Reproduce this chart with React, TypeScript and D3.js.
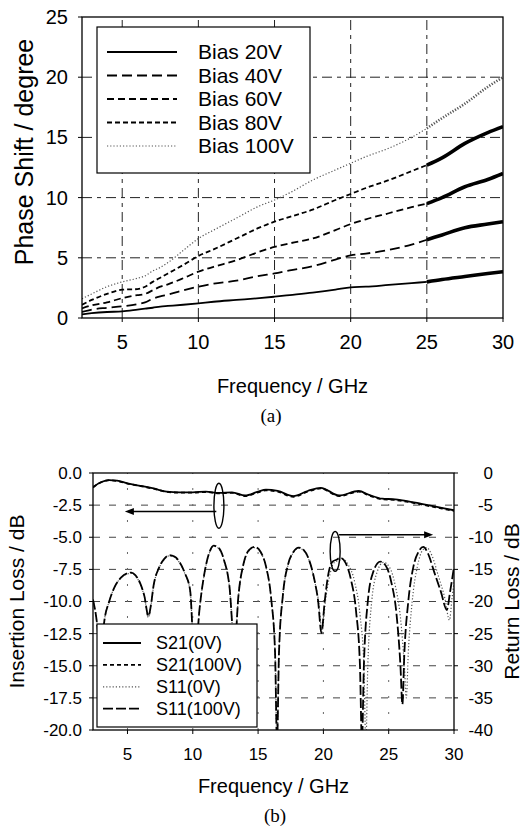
import React from "react";
import * as d3 from "d3";

// ---------- (a) Phase shift ----------
const freqA = [2.36, 3, 4, 5, 6, 6.5, 7, 7.5, 8, 9, 10, 11, 12.5, 14, 15, 16, 17.5, 19, 20, 21, 22.5, 24, 25, 26, 27.5, 29, 30];
const bias20 = [0.3, 0.4, 0.5, 0.55, 0.7, 0.78, 0.85, 0.95, 1.0, 1.1, 1.22, 1.35, 1.5, 1.65, 1.77, 1.9, 2.1, 2.35, 2.55, 2.6, 2.75, 2.9, 3.0, 3.2, 3.45, 3.7, 3.85];
const bias40 = [0.5, 0.7, 0.85, 0.97, 1.15, 1.3, 1.6, 1.8, 1.95, 2.3, 2.6, 2.85, 3.1, 3.5, 3.7, 3.95, 4.3, 4.85, 5.2, 5.35, 5.65, 6.1, 6.5, 6.9, 7.5, 7.8, 8.0];
const bias60 = [0.8, 1.05, 1.3, 1.65, 1.9, 2.0, 2.3, 2.6, 2.8, 3.3, 3.85, 4.25, 4.8, 5.5, 5.9, 6.2, 6.6, 7.3, 7.8, 8.2, 8.7, 9.2, 9.5, 10.0, 10.9, 11.5, 12.0];
const bias80 = [1.1, 1.5, 2.0, 2.35, 2.4, 2.6, 3.0, 3.35, 3.7, 4.4, 5.15, 5.7, 6.6, 7.5, 8.0, 8.4, 9.0, 9.8, 10.3, 10.8, 11.45, 12.2, 12.7, 13.3, 14.5, 15.4, 15.9];
const bias100 = [1.6, 2.0, 2.6, 3.0, 3.3, 3.5, 3.9, 4.2, 4.6, 5.6, 6.6, 7.3, 8.3, 9.3, 9.8, 10.4, 11.45, 12.3, 12.85, 13.4, 14.1, 15.0, 15.75, 16.6, 17.8, 19.2, 20.0];
const seriesA = ["Bias 20V", "Bias 40V", "Bias 60V", "Bias 80V", "Bias 100V"];
const ticksAX = [5, 10, 15, 20, 25, 30];
const ticksAY = [0, 5, 10, 15, 20, 25];
const noisyFromA = 25; // above this frequency the measured traces are much noisier

// ---------- (b) S-parameters ----------
const freqS21 = [2.36, 3.0, 3.6, 4.2, 5, 6, 7, 8, 9, 10, 11, 12, 13, 14, 15, 15.6, 16.5, 17.7, 18.8, 19.8, 21.2, 22.7, 23.5, 24.5, 25.5, 26.5, 27.5, 28.5, 30];
const s21_0V = [-1.1, -0.7, -0.55, -0.6, -0.8, -1.0, -1.2, -1.45, -1.5, -1.5, -1.45, -1.55, -1.5, -1.75, -1.45, -1.3, -1.4, -1.8, -1.4, -1.15, -1.75, -1.4, -1.7, -2.0, -2.05, -2.2, -2.4, -2.6, -2.9];
const s21_100V = [-1.12, -0.72, -0.56, -0.62, -0.82, -1.02, -1.22, -1.47, -1.53, -1.53, -1.48, -1.58, -1.54, -1.8, -1.5, -1.35, -1.45, -1.85, -1.45, -1.2, -1.8, -1.45, -1.75, -2.05, -2.1, -2.25, -2.45, -2.65, -2.95];

const freqS11_100V = [2.36, 2.7, 2.95, 3.2, 3.6, 4.0, 4.5, 5.0, 5.3, 5.6, 6.0, 6.3, 6.6, 6.8, 7.0, 7.4, 7.8, 8.2, 8.6, 9.0, 9.4, 9.8, 10.15, 10.5, 10.9, 11.3, 11.6, 12.0, 12.4, 12.8, 13.2, 13.5, 13.9, 14.3, 14.75, 15.2, 15.6, 16.0, 16.3, 16.45, 16.6, 16.9, 17.3, 17.7, 18.1, 18.5, 18.9, 19.3, 19.6, 19.85, 20.1, 20.4, 20.7, 21.0, 21.3, 21.7, 22.1, 22.5, 22.8, 22.95, 23.1, 23.4, 23.8, 24.35, 24.8, 25.2, 25.6, 25.9, 26.05, 26.2, 26.5, 26.9, 27.3, 27.65, 28.0, 28.5, 29.0, 29.45, 29.7, 30.0];
const s11_100V = [-19.7, -24, -30, -23.5, -20, -17.8, -16.3, -15.6, -15.5, -15.9, -17.3, -19.2, -22.3, -20.5, -17.5, -14.8, -13.4, -12.8, -13.0, -13.9, -15.6, -18.3, -30, -21.5, -15.5, -12.2, -11.3, -11.7, -13.6, -17.5, -27, -19, -14.0, -12.0, -11.5, -12.3, -14.5, -19.5, -28, -42, -28, -19, -14.2, -12.3, -11.6, -12.0, -13.5, -16.5, -20, -24.9, -20, -15.5, -13.8, -13.5, -13.2, -14.0, -16.5, -21.5, -30, -42, -30, -20, -15.5, -13.8, -14.5, -17, -22, -30, -36, -28, -20, -14.5, -12.2, -11.5, -12.5, -15.5, -18.5, -21.3, -18.5, -14.6];

const freqS11_0V = [2.36, 2.7, 2.95, 3.2, 3.6, 4.0, 4.5, 5.0, 5.3, 5.6, 6.0, 6.3, 6.6, 6.8, 7.0, 7.4, 7.8, 8.2, 8.6, 9.0, 9.4, 9.8, 10.15, 10.5, 10.9, 11.3, 11.6, 12.0, 12.4, 12.8, 13.2, 13.5, 13.9, 14.3, 14.75, 15.2, 15.6, 16.0, 16.3, 16.45, 16.6, 16.9, 17.3, 17.7, 18.1, 18.5, 18.9, 19.3, 19.6, 19.9, 20.15, 20.5, 20.8, 21.2, 21.5, 21.9, 22.4, 22.8, 23.1, 23.25, 23.4, 23.7, 24.1, 24.6, 25.1, 25.5, 25.9, 26.2, 26.35, 26.5, 26.8, 27.2, 27.6, 27.9, 28.3, 28.8, 29.3, 29.65, 29.85, 30.0];
const s11_0V = [-19.7, -24, -30, -23.5, -20, -17.8, -16.3, -15.7, -15.6, -16.0, -17.4, -19.3, -22.5, -20.6, -17.6, -14.9, -13.5, -12.9, -13.1, -14.0, -15.7, -18.4, -30, -21.6, -15.6, -12.3, -11.4, -11.8, -13.7, -17.6, -27, -19.1, -14.1, -12.1, -11.6, -12.4, -14.6, -19.6, -28, -42, -28, -19.1, -14.3, -12.4, -11.7, -12.1, -13.6, -16.6, -19.5, -24.5, -20, -15.8, -14.0, -13.6, -13.4, -14.3, -17, -22, -30, -42, -30, -20, -15.5, -13.9, -14.8, -17.5, -22.5, -30, -35, -28, -20, -14.5, -12.0, -11.6, -12.8, -16, -19.5, -22.9, -19.5, -17];

const seriesB = ["S21(0V)", "S21(100V)", "S11(0V)", "S11(100V)"];
const ticksBX = [5, 10, 15, 20, 25, 30];
const ticksBL = [0, -2.5, -5, -7.5, -10, -12.5, -15, -17.5, -20];
const ticksBR = [0, -5, -10, -15, -20, -25, -30, -35, -40];

const SANS = "'Liberation Sans', Arial, Helvetica, sans-serif";
const SERIF = "'Liberation Serif', 'Times New Roman', serif";

const dashA = ["", "10,5", "7,4", "5,3", "1.2,2"];
const widthA = [1.8, 1.8, 1.8, 1.8, 1.2];
const colorA = ["#000", "#000", "#000", "#000", "#555"];

function TopChart() {
  const x = d3.scaleLinear().domain([2.36, 30]).range([82, 503]);
  const y = d3.scaleLinear().domain([0, 25]).range([318, 17]);
  const data = [bias20, bias40, bias60, bias80, bias100];
  const line = (vals: number[], keep: (f: number) => boolean) =>
    d3.line<number>()
      .defined((_, i) => keep(freqA[i]))
      .x((_, i) => x(freqA[i]))
      .y((v) => y(v))
      .curve(d3.curveMonotoneX)(vals) || "";
  const [x0, x1] = x.range();
  const [y0, y1] = y.range();
  return (
    <g>
      <defs>
        <clipPath id="clipA">
          <rect x={x0} y={y1} width={x1 - x0} height={y0 - y1} />
        </clipPath>
      </defs>
      {ticksAY.filter((t) => t > 0 && t < 25).map((t) => (
        <line key={"gy" + t} x1={x0} x2={x1} y1={y(t)} y2={y(t)} stroke="#222" strokeWidth={1} strokeDasharray="10,5,4,5" />
      ))}
      {ticksAX.filter((t) => t < 30).map((t) => (
        <line key={"gx" + t} x1={x(t)} x2={x(t)} y1={y0} y2={y1} stroke="#222" strokeWidth={1} strokeDasharray="10,5,4,5" />
      ))}
      <g clipPath="url(#clipA)">
        {data.map((vals, i) => (
          <g key={i}>
            <path d={line(vals, (f) => f <= noisyFromA)} fill="none" stroke={colorA[i]} strokeWidth={widthA[i]} strokeDasharray={dashA[i] || undefined} />
            <path d={line(vals, (f) => f >= noisyFromA)} fill="none" stroke={colorA[i]} strokeWidth={i === 4 ? 2.6 : 3.6} strokeDasharray={i === 4 ? "1.2,1.6" : undefined} />
          </g>
        ))}
      </g>
      <rect x={x0} y={y1} width={x1 - x0} height={y0 - y1} fill="none" stroke="#000" strokeWidth={1.3} />
      {ticksAY.map((t) => (
        <g key={"ty" + t}>
          <line x1={x0 - 4} x2={x0} y1={y(t)} y2={y(t)} stroke="#000" />
          <text x={x0 - 14} y={y(t)} dy="0.35em" textAnchor="end" fontSize={20} fontFamily={SANS}>{t}</text>
        </g>
      ))}
      {ticksAX.map((t) => (
        <g key={"tx" + t}>
          <line x1={x(t)} x2={x(t)} y1={y0} y2={y0 + 4} stroke="#000" />
          <text x={x(t)} y={y0 + 24} dy="0.35em" textAnchor="middle" fontSize={20} fontFamily={SANS}>{t}</text>
        </g>
      ))}
      <text x={(x0 + x1) / 2} y={386} dy="0.35em" textAnchor="middle" fontSize={20} fontFamily={SANS}>Frequency / GHz</text>
      <text transform={`translate(24,152) rotate(-90)`} dy="0.35em" textAnchor="middle" fontSize={25} fontFamily={SANS}>Phase Shift / degree</text>
      <text x={271} y={415} dy="0.35em" textAnchor="middle" fontSize={19} fontFamily={SERIF}>(a)</text>
      {/* legend */}
      <rect x={97} y={27} width={213} height={146} fill="#fff" stroke="#000" strokeWidth={1.2} />
      {seriesA.map((s, i) => {
        const cy = 52 + i * 23.5;
        return (
          <g key={s}>
            <line x1={107} x2={177} y1={cy} y2={cy} stroke={colorA[i]} strokeWidth={widthA[i]} strokeDasharray={dashA[i] || undefined} />
            <text x={198} y={cy} dy="0.35em" fontSize={21} fontFamily={SANS}>{s}</text>
          </g>
        );
      })}
    </g>
  );
}

function BottomChart() {
  const x = d3.scaleLinear().domain([2.36, 30]).range([93, 454]);
  const yL = d3.scaleLinear().domain([-20, 0]).range([730, 473]);
  const yR = d3.scaleLinear().domain([-40, 0]).range([730, 473]);
  const [x0, x1] = x.range();
  const [y0, y1] = yL.range();
  const mk = (fr: number[], sc: d3.ScaleLinear<number, number>) => (vals: number[]) =>
    d3.line<number>().x((_, i) => x(fr[i])).y((v) => sc(v)).curve(d3.curveMonotoneX)(vals) || "";
  const s21Line = mk(freqS21, yL);
  const s11aLine = mk(freqS11_100V, yR);
  const s11bLine = mk(freqS11_0V, yR);
  const styles = [
    { stroke: "#000", w: 1.8, dash: "" },
    { stroke: "#000", w: 1.8, dash: "4,3" },
    { stroke: "#555", w: 1.2, dash: "1.2,2" },
    { stroke: "#000", w: 1.8, dash: "10,3" },
  ];
  // annotations (data coordinates)
  const ellL = { f: 12.0, v: -2.55, ry: 1.75 };
  const arrL = { v: -3.0, from: 11.8, to: 4.8 };
  const ellR = { f: 20.9, v: -12.2, ry: 3.1 };
  const arrR = { v: -9.6, from: 21.2, to: 28.4 };
  return (
    <g>
      <defs>
        <clipPath id="clipB">
          <rect x={x0} y={y1} width={x1 - x0} height={y0 - y1} />
        </clipPath>
      </defs>
      {ticksBL.filter((t) => t < 0 && t > -20).map((t) => (
        <line key={"gy" + t} x1={x0} x2={x1} y1={yL(t)} y2={yL(t)} stroke="#444" strokeWidth={1} strokeDasharray="7,9" />
      ))}
      {ticksBX.filter((t) => t < 30).map((t) => (
        <line key={"gx" + t} x1={x(t)} x2={x(t)} y1={y0} y2={y1} stroke="#666" strokeWidth={1} strokeDasharray="2,14" />
      ))}
      <g clipPath="url(#clipB)">
        <path d={s11bLine(s11_0V)} fill="none" stroke={styles[2].stroke} strokeWidth={styles[2].w} strokeDasharray={styles[2].dash} />
        <path d={s11aLine(s11_100V)} fill="none" stroke={styles[3].stroke} strokeWidth={styles[3].w} strokeDasharray={styles[3].dash} />
        <path d={s21Line(s21_0V)} fill="none" stroke={styles[0].stroke} strokeWidth={styles[0].w} />
        <path d={s21Line(s21_100V)} fill="none" stroke={styles[1].stroke} strokeWidth={styles[1].w} strokeDasharray={styles[1].dash} />
      </g>
      <rect x={x0} y={y1} width={x1 - x0} height={y0 - y1} fill="none" stroke="#000" strokeWidth={1.3} />
      {ticksBL.map((t) => (
        <g key={"tl" + t}>
          <line x1={x0 - 4} x2={x0} y1={yL(t)} y2={yL(t)} stroke="#000" />
          <text x={x0 - 11} y={yL(t)} dy="0.35em" textAnchor="end" fontSize={17} fontFamily={SANS}>{t.toFixed(1)}</text>
        </g>
      ))}
      {ticksBR.map((t) => (
        <g key={"tr" + t}>
          <line x1={x1} x2={x1 + 4} y1={yR(t)} y2={yR(t)} stroke="#000" />
          <text x={493} y={yR(t)} dy="0.35em" textAnchor="end" fontSize={17} fontFamily={SANS}>{t}</text>
        </g>
      ))}
      {ticksBX.map((t) => (
        <g key={"tx" + t}>
          <line x1={x(t)} x2={x(t)} y1={y0} y2={y0 + 4} stroke="#000" />
          <text x={x(t)} y={754} dy="0.35em" textAnchor="middle" fontSize={17} fontFamily={SANS}>{t}</text>
        </g>
      ))}
      <text x={(x0 + x1) / 2} y={786} dy="0.35em" textAnchor="middle" fontSize={20} fontFamily={SANS}>Frequency / GHz</text>
      <text x={275} y={815} dy="0.35em" textAnchor="middle" fontSize={19} fontFamily={SERIF}>(b)</text>
      <text transform={`translate(17,${(y0 + y1) / 2}) rotate(-90)`} dy="0.35em" textAnchor="middle" fontSize={21} fontFamily={SANS}>Insertion Loss / dB</text>
      <text transform={`translate(512,${(y0 + y1) / 2}) rotate(-90)`} dy="0.35em" textAnchor="middle" fontSize={21} fontFamily={SANS}>Return Loss / dB</text>
      {/* annotations */}
      <ellipse cx={x(ellL.f)} cy={yL(ellL.v)} rx={5} ry={yL(ellL.v - ellL.ry) - yL(ellL.v)} fill="none" stroke="#000" strokeWidth={1.4} />
      <line x1={x(arrL.from)} x2={x(arrL.to) + 8} y1={yL(arrL.v)} y2={yL(arrL.v)} stroke="#000" strokeWidth={1.6} />
      <path d={`M${x(arrL.to)},${yL(arrL.v)} l9,-3.5 l0,7 z`} fill="#000" />
      <ellipse cx={x(ellR.f)} cy={yR(ellR.v)} rx={5} ry={yR(ellR.v - ellR.ry) - yR(ellR.v)} fill="none" stroke="#000" strokeWidth={1.4} />
      <line x1={x(arrR.from)} x2={x(arrR.to) - 8} y1={yR(arrR.v)} y2={yR(arrR.v)} stroke="#000" strokeWidth={1.6} />
      <path d={`M${x(arrR.to)},${yR(arrR.v)} l-9,-3.5 l0,7 z`} fill="#000" />
      {/* legend */}
      <rect x={97} y={624} width={160} height={103} fill="#fff" stroke="#000" strokeWidth={1.2} />
      {seriesB.map((s, i) => {
        const cy = 643 + i * 21.9;
        const st = styles[i];
        return (
          <g key={s}>
            <line x1={103} x2={141} y1={cy} y2={cy} stroke={st.stroke} strokeWidth={st.w} strokeDasharray={st.dash || undefined} />
            <text x={156} y={cy} dy="0.35em" fontSize={18} fontFamily={SANS}>{s}</text>
          </g>
        );
      })}
    </g>
  );
}

export default function App() {
  return (
    <svg width={523} height={827} style={{ position: "absolute", left: 0, top: 0, background: "#fff" }} xmlns="http://www.w3.org/2000/svg">
      <rect width={523} height={827} fill="#fff" />
      <TopChart />
      <BottomChart />
    </svg>
  );
}
